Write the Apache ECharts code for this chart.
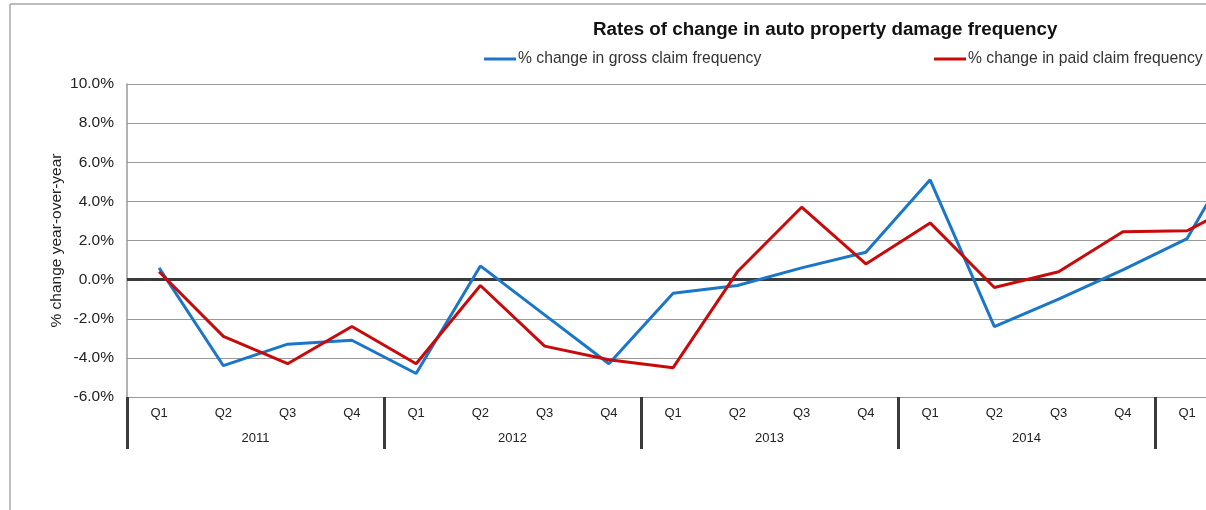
<!DOCTYPE html>
<html>
<head>
<meta charset="utf-8">
<script src="https://cdn.jsdelivr.net/npm/echarts@6/dist/echarts.min.js"></script>
<style>
html,body{margin:0;padding:0;background:#fff;}
#c{width:1206px;height:510px;}
</style>
</head>
<body>
<div id="c"></div>
<script>
const years = ['2011', '2012', '2013', '2014', '2015'];
const quarters = ['Q1', 'Q2', 'Q3', 'Q4'];
const grossClaim = [0.6, -4.4, -3.3, -3.1, -4.8, 0.7, -1.8, -4.3, -0.7, -0.3, 0.6, 1.4, 5.1, -2.4, -1.0, 0.5, 2.1, 7.8];
const paidClaim = [0.4, -2.9, -4.3, -2.4, -4.3, -0.3, -3.4, -4.1, -4.5, 0.4, 3.7, 0.8, 2.9, -0.4, 0.4, 2.45, 2.5, 4.2];
const yTicks = [-6, -4, -2, 0, 2, 4, 6, 8, 10];

const categories = [];
years.forEach(y => quarters.forEach(q => categories.push(y + ' ' + q)));

const FONT = 'Liberation Sans, Arial, Helvetica, sans-serif';
const chart = echarts.init(document.getElementById('c'));
chart.setOption({
  animation: false,
  backgroundColor: '#fff',
  textStyle: { fontFamily: FONT },
  title: {
    text: 'Rates of change in auto property damage frequency',
    left: 588, top: 15,
    textStyle: { fontSize: 18.8, fontWeight: 'bold', color: '#111', fontFamily: FONT }
  },
  legend: [
    { data: ['% change in gross claim frequency'], left: 479, top: 46, itemWidth: 32, itemHeight: 3, icon: 'rect', itemGap: 0,
      textStyle: { fontSize: 15.7, color: '#333', fontFamily: FONT, padding: [0, 0, 0, -3] } },
    { data: ['% change in paid claim frequency'], left: 929, top: 46, itemWidth: 32, itemHeight: 3, icon: 'rect', itemGap: 0,
      textStyle: { fontSize: 15.7, color: '#333', fontFamily: FONT, padding: [0, 0, 0, -3] } }
  ],
  graphic: [
    { type: 'line', shape: { x1: 10, y1: 4, x2: 1206, y2: 4 }, style: { stroke: '#a8a8a8', lineWidth: 1.5 }, silent: true },
    { type: 'line', shape: { x1: 10, y1: 4, x2: 10, y2: 510 }, style: { stroke: '#a8a8a8', lineWidth: 1.5 }, silent: true }
  ],
  grid: { left: 127, top: 84, width: 64.25 * categories.length, height: 313, outerBoundsMode: 'none', containLabel: false },
  xAxis: [
    {
      type: 'category', data: categories, position: 'bottom',
      axisLine: { show: true, lineStyle: { color: '#999', width: 1 } },
      axisTick: { show: false },
      axisLabel: { margin: 10, fontSize: 13, color: '#222', fontFamily: FONT, interval: 0,
        formatter: v => v.split(' ')[1] }
    },
    {
      type: 'category', data: years, position: 'bottom',
      axisLine: { show: false },
      axisTick: { show: true, length: 52, interval: 0, lineStyle: { color: '#3a3a3a', width: 3 } },
      axisLabel: { margin: 35, fontSize: 13, color: '#222', fontFamily: FONT, interval: 0 }
    }
  ],
  yAxis: {
    type: 'value', min: yTicks[0], max: yTicks[yTicks.length - 1], interval: 2,
    name: '% change year-over-year', nameLocation: 'middle', nameGap: 62, nameMoveOverlap: false,
    nameTextStyle: { fontSize: 15.5, color: '#222', fontFamily: FONT },
    axisLine: { show: true, lineStyle: { color: '#999', width: 1.5 } },
    axisTick: { show: false },
    axisLabel: { fontSize: 15.5, color: '#222', margin: 13, fontFamily: FONT, formatter: v => v.toFixed(1) + '%' },
    splitLine: { show: true, lineStyle: { color: '#999', width: 1 } }
  },
  series: [
    {
      name: '% change in gross claim frequency', type: 'line', data: grossClaim,
      symbol: 'none', lineStyle: { color: '#1a76c8', width: 3 }, itemStyle: { color: '#1a76c8' },
      z: 3,
      markLine: {
        silent: true, symbol: 'none', label: { show: false },
        lineStyle: { color: '#3a3a3a', width: 3, type: 'solid' },
        data: [{ yAxis: 0 }], z: 2
      }
    },
    {
      name: '% change in paid claim frequency', type: 'line', data: paidClaim,
      symbol: 'none', lineStyle: { color: '#c80a0a', width: 3 }, itemStyle: { color: '#c80a0a' },
      z: 4
    }
  ]
});
</script>
</body>
</html>
